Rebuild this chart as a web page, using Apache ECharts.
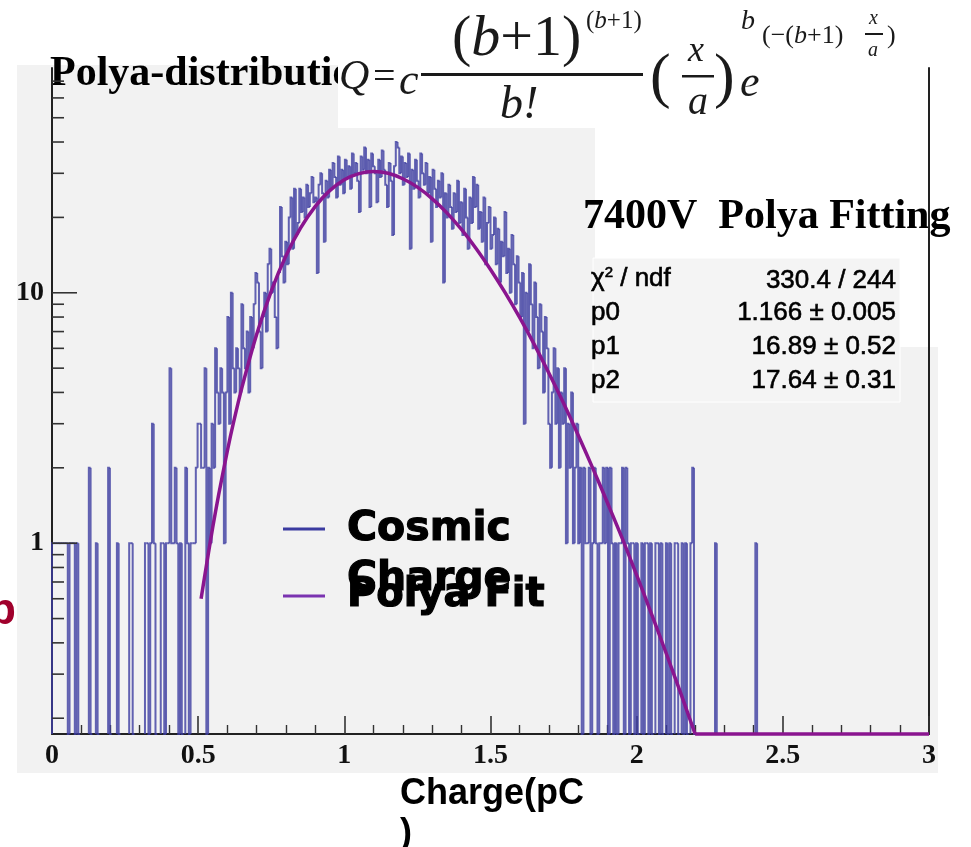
<!DOCTYPE html>
<html>
<head>
<meta charset="utf-8">
<script src="https://cdn.jsdelivr.net/npm/echarts@6/dist/echarts.min.js"></script>
<style>
  html, body { margin: 0; padding: 0; background: #ffffff; }
  #chart { width: 971px; height: 847px; }
</style>
</head>
<body>
<div id="chart"></div>
<script>
// Charge histogram: 500 bins of 0.006 pC covering 0 - 3 pC
const binStart = 0;
const binWidth = 0.006;
const counts = [
  1,1,1,1,1,1,1,1,1,0,  1,1,1,0,1,0,0,0,0,0,  0,2,0,0,0,1,0,0,0,0,  0,0,2,0,0,0,0,1,0,0,
  0,0,0,0,1,1,0,0,0,0,  0,0,0,1,1,0,1,3,1,0,  0,0,1,1,0,1,1,5,1,1,  2,1,0,1,0,0,2,1,0,1,
  1,1,2,3,3,2,2,5,0,2,  1,3,2,6,4,3,5,4,1,4,  8,3,10,5,4,6,5,4,9,6,  5,7,4,8,6,9,12,11,7,5,
  8,10,7,13,15,10,11,8,6,12,  22,14,11,16,13,20,24,15,26,17,  19,26,21,24,20,27,22,25,29,23,
  24,12,27,30,25,16,28,24,31,26,  33,29,24,35,27,31,25,34,29,32,  26,36,30,33,28,21,35,31,38,30,
  34,22,36,32,30,23,34,29,37,31,  27,22,33,28,17,32,40,38,30,35,  27,33,29,36,15,31,26,34,28,24,
  36,30,27,33,25,29,16,31,26,22,  28,24,30,11,25,20,27,22,18,25,  21,28,19,23,17,26,20,15,24,19,
  29,22,27,18,21,16,24,13,19,22,  15,17,20,13,18,11,16,14,21,12,  15,10,17,13,9,14,11,8,12,3,
  10,7,13,9,6,11,8,5,9,7,  4,8,6,3,2,4,6,3,5,2,  4,3,5,1,3,2,4,1,2,3,  1,2,0,2,1,1,2,0,1,2,
  1,0,1,1,2,1,2,0,2,1,  0,1,0,1,1,2,0,2,1,0,  1,1,0,1,0,0,1,0,1,1,  0,1,0,0,1,1,0,1,0,0,
  1,0,1,0,0,1,1,0,0,1,  0,1,0,0,1,2,0,0,0,0,  0,0,0,0,0,0,0,0,1,0,  0,0,0,0,0,0,0,0,0,0,
  0,0,0,0,0,0,0,0,0,0,  0,1,0,0,0,0,0,0,0,0,  0,0,0,0,0,0,0,0,0,0,  0,0,0,0,0,0,0,0,0,0,
  0,0,0,0,0,0,0,0,0,0,  0,0,0,0,0,0,0,0,0,0,  0,0,0,0,0,0,0,0,0,0,  0,0,0,0,0,0,0,0,0,0,
  0,0,0,0,0,0,0,0,0,0,  0,0,0,0,0,0,0,0,0,0,  0,0,0,0,0,0,0,0,0,0,  0,0,0,0,0,0,0,0,0,0,
  0,0,0,0,0,0,0,0,0,0,  0,0,0,0,0,0,0,0,0,0,  0,0,0,0,0,0,0,0,0,0,  0,0,0,0,0,0,0,0,0,0,
  0,0,0,0,0,0,0,0,0,0,  0,0,0,0,0,0,0,0,0,0,  0,0,0,0,0,0,0,0,0,0,  0,0,0,0,0,0,0,0,0,0,
  0,0,0,0,0,0,0,0,0,0,  0,0,0,0,0,0,0,0,0,0
];

// Polya fit curve, sampled along charge; the last two points run along the frame floor
const fitX = [0.51,0.53,0.55,0.57,0.60,0.62,0.65,0.70,0.75,0.80,0.85,0.90,0.95,1.00,1.05,1.10,1.15,1.20,1.25,1.30,
              1.35,1.40,1.45,1.50,1.55,1.60,1.65,1.70,1.75,1.80,1.85,1.90,1.95,2.00,2.05,2.10,2.15,2.20,3.00];
const fitY = [0.60,0.84,1.16,1.56,2.34,3.00,4.20,6.82,10.16,14.03,18.12,22.09,25.58,28.25,29.90,30.48,30.00,28.53,26.42,23.78,
              20.90,17.94,15.07,12.39,10.01,7.95,6.21,4.77,3.62,2.70,1.99,1.45,1.05,0.745,0.525,0.366,0.253,0.173,0.173];

// Axis ranges and tick values
const xRange = [0, 3];
const xInterval = 0.5;
const yRange = [0.173, 79];
const yMajorTicks = [1, 10];
const yMinorTicks = [0.2,0.3,0.4,0.5,0.6,0.7,0.8,0.9, 2,3,4,5,6,7,8,9, 20,30,40,50,60,70];

// Fit statistics box
const statRows = [
  ['{t|χ}{s|2}{t| / ndf}', '330.4 / 244'],
  ['p0', '1.166 ± 0.005'],
  ['p1', '16.89 ± 0.52'],
  ['p2', '17.64 ± 0.31']
];

const histName = 'Cosmic Charge';
const fitName = 'Polya Fit';

const histData = counts.map((c, i) => [
  binStart + i * binWidth,
  binStart + (i + 1) * binWidth,
  c,
  i > 0 ? counts[i - 1] : 0
]);
const fitData = fitX.map((x, i) => [x, fitY[i]]);
const fitCurve = fitData.slice(0, -1);
const fitFloor = fitData.slice(-2);
const tickData = yMajorTicks.map(v => [xRange[0], v, 1]).concat(yMinorTicks.map(v => [xRange[0], v, 0]));

const chart = echarts.init(document.getElementById('chart'), null, { renderer: 'canvas' });

const serif = '"Liberation Serif", "Times New Roman", serif';
const sans = '"Liberation Sans", Arial, Helvetica, sans-serif';
const heavy = '"DejaVu Sans", sans-serif';

function renderHist(params, api) {
  const c = api.value(2), p = api.value(3);
  if (c <= 0 && p <= 0) return null;
  const cs = params.coordSys;
  const floor = cs.y + cs.height;
  const yOf = n => (n > 0 ? api.coord([api.value(0), n])[1] : floor);
  const xl = api.coord([api.value(0), 1])[0];
  const xr = api.coord([api.value(1), 1])[0];
  const yc = yOf(c), yp = yOf(p);
  return {
    type: 'polyline',
    shape: { points: [[xl, yp], [xl, yc], [xr, yc]] },
    style: { stroke: 'rgba(60,60,160,0.8)', lineWidth: 2, fill: null }
  };
}

function renderYTick(params, api) {
  const pt = api.coord([api.value(0), api.value(1)]);
  const len = api.value(2) ? 25 : 12;
  return {
    type: 'line',
    shape: { x1: pt[0], y1: pt[1], x2: pt[0] + len, y2: pt[1] },
    style: { stroke: '#333', lineWidth: 1.6 }
  };
}

const formulaFill = '#1a1a1a';
const it = sz => ({ fontFamily: serif, fontStyle: 'italic', fontSize: sz, fill: formulaFill });
const up = sz => ({ fontFamily: serif, fontSize: sz, fill: formulaFill });

const option = {
  backgroundColor: '#ffffff',
  animation: false,
  grid: { left: 52, right: 42, top: 68, bottom: 113, containLabel: false },
  xAxis: {
    type: 'value',
    min: xRange[0], max: xRange[1], interval: xInterval,
    axisLine: { lineStyle: { color: '#222', width: 2 } },
    axisTick: { inside: true, length: 18, lineStyle: { color: '#333', width: 1.6 } },
    minorTick: { show: true, splitNumber: 5, length: 9, lineStyle: { color: '#333', width: 1.4 } },
    splitLine: { show: false },
    axisLabel: { margin: 8, color: '#111', fontFamily: serif, fontWeight: 'bold', fontSize: 28 }
  },
  yAxis: [
    {
      type: 'log', logBase: 10,
      min: yRange[0], max: yRange[1],
      axisLine: { show: true, lineStyle: { color: '#222', width: 2 } },
      axisTick: { show: false },
      splitLine: { show: false },
      axisLabel: {
        margin: 8, color: '#111', fontFamily: serif, fontWeight: 'bold', fontSize: 28,
        formatter: v => (yMajorTicks.some(t => Math.abs(v - t) < 1e-6 * t) ? String(Math.round(v)) : '')
      }
    },
    {
      type: 'log', logBase: 10, position: 'right',
      min: yRange[0], max: yRange[1],
      axisLine: { show: true, lineStyle: { color: '#222', width: 2 } },
      axisTick: { show: false }, axisLabel: { show: false }, splitLine: { show: false }
    }
  ],
  legend: [
    {
      data: [{ name: histName, itemStyle: { color: '#3b3ba0' } }],
      left: 283, top: 454, padding: 0,
      icon: 'rect', itemWidth: 42, itemHeight: 3, selectedMode: false,
      formatter: name => '\n' + name,
      textStyle: {
        fontFamily: heavy, fontWeight: 'bold', fontSize: 41, color: '#000',
        width: 200, overflow: 'break', lineHeight: 50, padding: [0, 0, 0, 17],
        textBorderColor: '#000', textBorderWidth: 1.2
      }
    },
    {
      data: [{ name: fitName, itemStyle: { color: '#7a33b0' } }],
      left: 283, top: 571, padding: 0,
      icon: 'rect', itemWidth: 42, itemHeight: 3, selectedMode: false,
      textStyle: {
        fontFamily: heavy, fontWeight: 'bold', fontSize: 40, color: '#000',
        lineHeight: 50, padding: [0, 0, 0, 17],
        textBorderColor: '#000', textBorderWidth: 1.2
      }
    }
  ],
  graphic: [
    // canvas panel
    { type: 'rect', z: -10, shape: { x: 17, y: 65, width: 921, height: 708 }, style: { fill: '#f2f2f2' } },
    // histogram title
    { type: 'text', z: -9, x: 50, y: 74,
      style: { text: 'Polya-distribution', font: 'bold 42px ' + serif, fill: '#000', textVerticalAlign: 'middle' } },
    // white backings for the formula and the fit caption
    { type: 'rect', z: -8, shape: { x: 338, y: 0, width: 567, height: 70 }, style: { fill: '#fff' } },
    { type: 'rect', z: -8, shape: { x: 338, y: 0, width: 257, height: 128 }, style: { fill: '#fff' } },
    { type: 'rect', z: -8, shape: { x: 595, y: 0, width: 345, height: 258 }, style: { fill: '#fff' } },
    { type: 'rect', z: -8, shape: { x: 900, y: 258, width: 40, height: 89 }, style: { fill: '#fff' } },
    { type: 'rect', z: -8, shape: { x: 593, y: 258, width: 307, height: 144 }, style: { fill: '#f4f4f4', stroke: '#fff', lineWidth: 1 } },
    // Polya formula
    { type: 'text', z: -7, x: 339, y: 78, style: Object.assign({ text: 'Q', textVerticalAlign: 'middle' }, it(42)) },
    { type: 'text', z: -7, x: 373, y: 78, style: Object.assign({ text: '=', textVerticalAlign: 'middle' }, up(40)) },
    { type: 'text', z: -7, x: 399, y: 82, style: Object.assign({ text: 'c', textVerticalAlign: 'middle' }, it(44)) },
    { type: 'rect', z: -7, shape: { x: 421, y: 73, width: 222, height: 3 }, style: { fill: formulaFill } },
    { type: 'text', z: -7, x: 452, y: 40,
      style: { text: '{n|(}{i|b}{n|+1)}', textVerticalAlign: 'middle', rich: { n: up(58), i: it(58) } } },
    { type: 'text', z: -7, x: 586, y: 21,
      style: { text: '{n|(}{i|b}{n|+1)}', textVerticalAlign: 'middle', rich: { n: up(25), i: it(25) } } },
    { type: 'text', z: -7, x: 500, y: 106, style: Object.assign({ text: 'b!', textVerticalAlign: 'middle' }, it(46)) },
    { type: 'text', z: -7, x: 650, y: 80, style: Object.assign({ text: '(', textVerticalAlign: 'middle' }, up(62)) },
    { type: 'text', z: -7, x: 688, y: 52, style: Object.assign({ text: 'x', textVerticalAlign: 'middle' }, it(36)) },
    { type: 'rect', z: -7, shape: { x: 682, y: 75, width: 32, height: 2.5 }, style: { fill: formulaFill } },
    { type: 'text', z: -7, x: 688, y: 103, style: Object.assign({ text: 'a', textVerticalAlign: 'middle' }, it(40)) },
    { type: 'text', z: -7, x: 714, y: 80, style: Object.assign({ text: ')', textVerticalAlign: 'middle' }, up(62)) },
    { type: 'text', z: -7, x: 741, y: 22, style: Object.assign({ text: 'b', textVerticalAlign: 'middle' }, it(28)) },
    { type: 'text', z: -7, x: 740, y: 84, style: Object.assign({ text: 'e', textVerticalAlign: 'middle' }, it(44)) },
    { type: 'text', z: -7, x: 762, y: 36,
      style: { text: '{n|(−(}{i|b}{n|+1)}', textVerticalAlign: 'middle', rich: { n: up(26), i: it(26) } } },
    { type: 'text', z: -7, x: 869, y: 19, style: Object.assign({ text: 'x', textVerticalAlign: 'middle' }, it(20)) },
    { type: 'rect', z: -7, shape: { x: 865, y: 33, width: 18, height: 2 }, style: { fill: formulaFill } },
    { type: 'text', z: -7, x: 868, y: 51, style: Object.assign({ text: 'a', textVerticalAlign: 'middle' }, it(20)) },
    { type: 'text', z: -7, x: 887, y: 36, style: Object.assign({ text: ')', textVerticalAlign: 'middle' }, up(26)) },
    // fit caption and statistics
    { type: 'text', z: -6, x: 583, y: 217,
      style: { text: '7400V  Polya Fitting', font: 'bold 42px ' + serif, fill: '#000', textVerticalAlign: 'middle' } },
    ...statRows.map((r, i) => ({
      type: 'text', z: -6, x: 591, y: [279, 313, 347, 381][i],
      style: { text: r[0], textVerticalAlign: 'middle', font: '26px ' + sans, fill: '#000',
        stroke: '#000', lineWidth: 0.6,
        rich: { t: { fontFamily: sans, fontSize: 26, fill: '#000' },
                s: { fontFamily: sans, fontSize: 15, fill: '#000', verticalAlign: 'top', padding: [0, 0, 12, 0] } } }
    })),
    ...statRows.map((r, i) => ({
      type: 'text', z: -6, x: 896, y: [281, 313, 347, 381][i],
      style: { text: r[1], textAlign: 'right', textVerticalAlign: 'middle', font: '26px ' + sans, fill: '#000',
        stroke: '#000', lineWidth: 0.6 }
    })),
    // clipped vertical axis caption
    { type: 'text', z: 5, x: 16, y: 612,
      style: { text: 'p', textAlign: 'right', textVerticalAlign: 'middle', font: 'bold 44px ' + sans, fill: '#a0002c' } },
    // horizontal axis caption
    { type: 'text', z: 5, x: 400, y: 774,
      style: { text: 'Charge(pC\n)', font: 'bold 36px ' + sans, fill: '#000', lineHeight: 40, textVerticalAlign: 'top' } }
  ],
  series: [
    {
      name: histName,
      type: 'custom',
      renderItem: renderHist,
      data: histData,
      encode: { x: [0, 1], y: 2 },
      itemStyle: { color: '#3b3ba0' },
      clip: false,
      silent: true,
      z: 3
    },
    {
      name: fitName,
      type: 'line',
      data: fitCurve,
      smooth: 0.3,
      showSymbol: false,
      clip: false,
      lineStyle: { color: '#8a158f', width: 3.5 },
      itemStyle: { color: '#8a158f' },
      silent: true,
      z: 4
    },
    {
      name: fitName,
      type: 'line',
      data: fitFloor,
      showSymbol: false,
      clip: false,
      lineStyle: { color: '#8a158f', width: 3.5 },
      itemStyle: { color: '#8a158f' },
      silent: true,
      z: 4
    },
    {
      name: 'ticks',
      type: 'custom',
      renderItem: renderYTick,
      data: tickData,
      encode: { x: 0, y: 1 },
      clip: false,
      silent: true,
      z: 5
    }
  ]
};

chart.setOption(option);
</script>
</body>
</html>
